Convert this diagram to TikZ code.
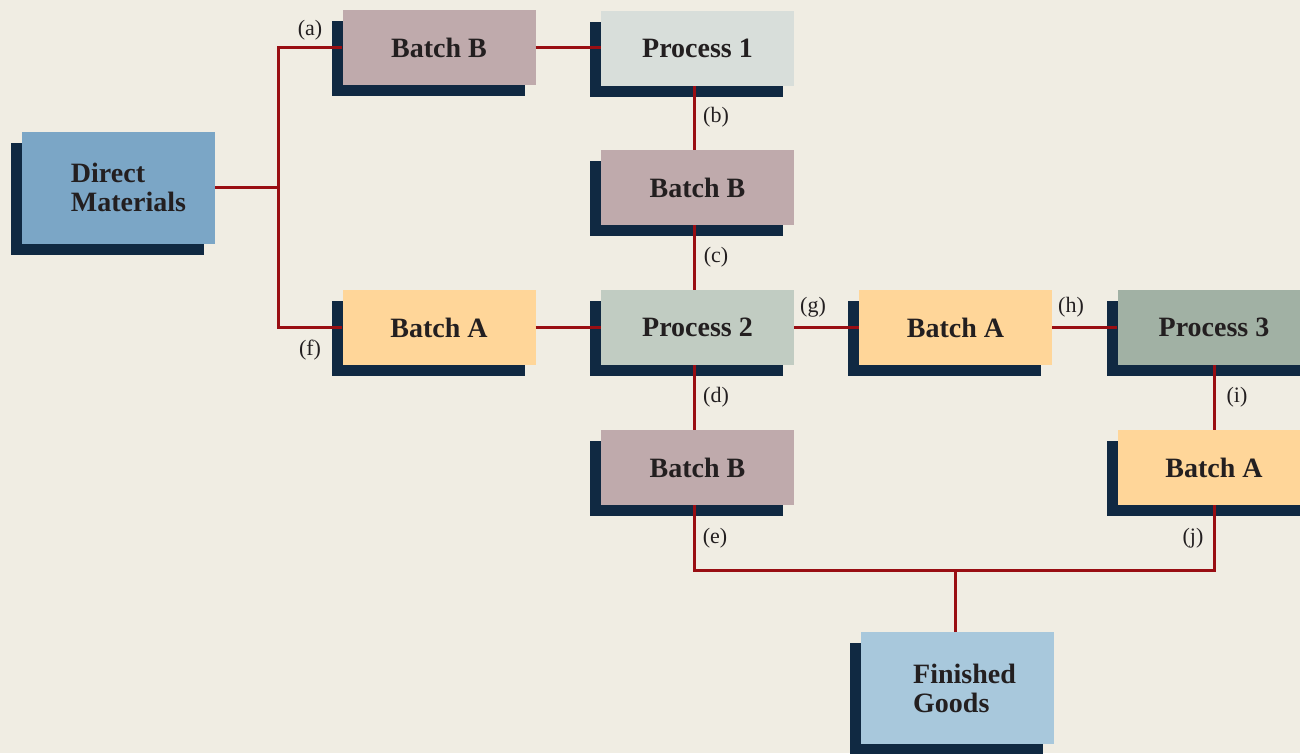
\documentclass[tikz,border=0pt]{standalone}
\usepackage{fontspec}
\setmainfont{Liberation Serif}
\usetikzlibrary{shadows}
\definecolor{bg}{HTML}{F0EDE3}
\definecolor{navy}{HTML}{102942}
\definecolor{cdm}{HTML}{7BA6C6}
\definecolor{cbb}{HTML}{BFAAAC}
\definecolor{cpa}{HTML}{D8DEDA}
\definecolor{cpb}{HTML}{C1CCC2}
\definecolor{cpc}{HTML}{A1B1A4}
\definecolor{cba}{HTML}{FFD699}
\definecolor{cfg}{HTML}{A8C8DC}
\definecolor{wire}{HTML}{990E13}
\definecolor{ink}{HTML}{231F20}
\tikzset{
  box/.style={rectangle, inner sep=0pt, minimum width=193pt, minimum height=75pt,
    text=ink, font=\bfseries\fontsize{28}{29}\selectfont,
    drop shadow={shadow xshift=-11pt, shadow yshift=-11pt, fill=navy, opacity=1}},
  bigbox/.style={box, minimum height=112pt, align=left},
  conn/.style={draw=wire, line width=3pt},
  tag/.style={text=ink, inner sep=0pt, font=\fontsize{22}{24}\selectfont}
}
\begin{document}
\begin{tikzpicture}[x=1pt,y=-1pt]
\fill[bg] (0,0) rectangle (1300,753);
\useasboundingbox (0,0) rectangle (1300,753);
\clip (0,0) rectangle (1300,753);
% nodes
\node[bigbox, fill=cdm] (dm) at (118.5,187.5) {\hspace*{20pt}Direct\\\hspace*{20pt}Materials};
\node[box, fill=cbb] (b1) at (439,47.5) {Batch B};
\node[box, fill=cpa] (p1) at (697.5,48.5) {Process 1};
\node[box, fill=cbb] (b2) at (697.5,187.5) {Batch B};
\node[box, fill=cba] (a1) at (439,327.5) {Batch A};
\node[box, fill=cpb] (p2) at (697.5,327.5) {Process 2};
\node[box, fill=cba] (a2) at (955.5,327.5) {Batch A};
\node[box, fill=cpc] (p3) at (1214,327.5) {Process 3};
\node[box, fill=cbb] (b3) at (697.5,467.5) {Batch B};
\node[box, fill=cba] (a3) at (1214,467.5) {Batch A};
\node[bigbox, fill=cfg] (fg) at (957,688) {\hspace*{15pt}Finished\\\hspace*{15pt}Goods};
% connectors
\coordinate (sp) at (278,187.5);
\coordinate (bus) at (955.5,570);
\draw[conn] (dm.east) -- (sp);
\draw[conn] (b1.west) -| (sp);
\draw[conn] (a1.west) -| (sp);
\draw[conn] (b1.east) -- (b1.east -| p1.west);
\draw[conn] ([xshift=-3.5pt]p1.south) -- ([xshift=-3.5pt]b2.north);
\draw[conn] ([xshift=-3.5pt]b2.south) -- ([xshift=-3.5pt]p2.north);
\draw[conn] (a1.east) -- (p2.west);
\draw[conn] (p2.east) -- (a2.west);
\draw[conn] (a2.east) -- (p3.west);
\draw[conn] ([xshift=-3.5pt]p2.south) -- ([xshift=-3.5pt]b3.north);
\draw[conn] (p3.south) -- (a3.north);
\draw[conn] ([xshift=-3.5pt]b3.south) |- (bus) -| (a3.south);
\draw[conn] (bus) -- (bus |- fg.north);
% labels
\node[tag] (la) at (310,30) {(a)};
\node[tag] (lb) at (716,117) {(b)};
\node[tag] (lc) at (716,257) {(c)};
\node[tag] (ld) at (716,397) {(d)};
\node[tag] (le) at (715,538) {(e)};
\node[tag] (lf) at (310,350) {(f)};
\node[tag] (lg) at (813,307) {(g)};
\node[tag] (lh) at (1071,307) {(h)};
\node[tag] (li) at (1237,397) {(i)};
\node[tag] (lj) at (1193,538) {(j)};
\end{tikzpicture}
\end{document}
